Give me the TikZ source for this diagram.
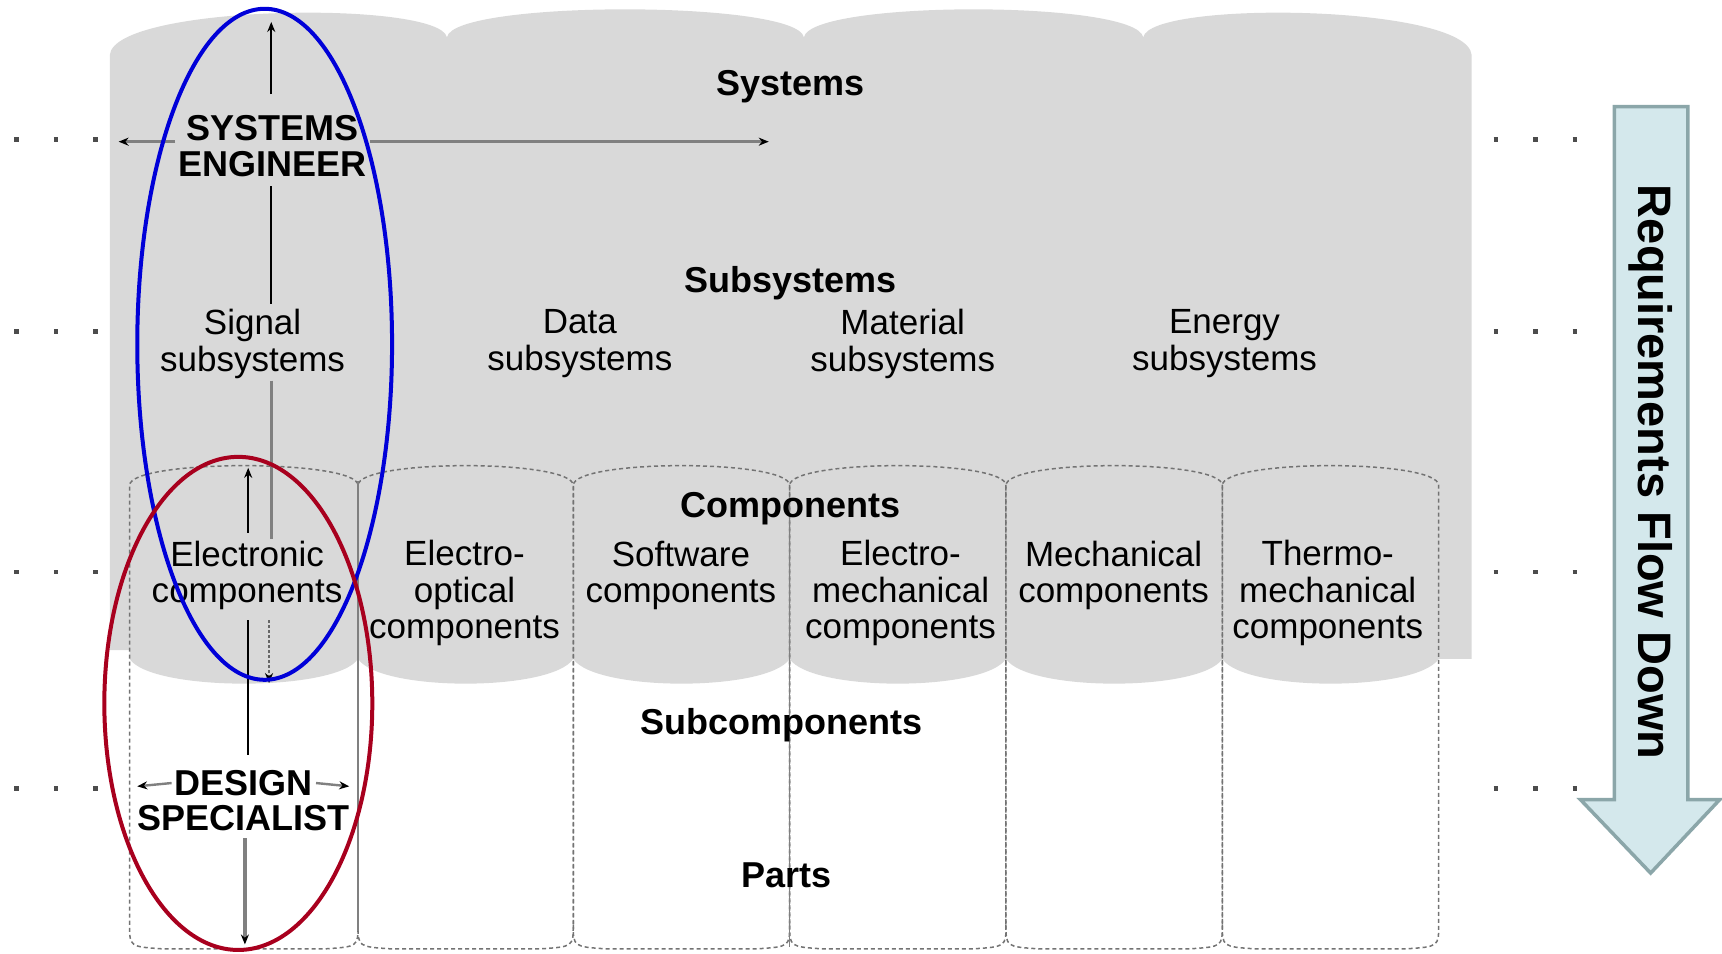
\documentclass[tikz,border=0pt]{standalone}
\usepackage{fontspec}
\setmainfont{Liberation Sans}
\usetikzlibrary{arrows.meta}

\definecolor{stipple}{HTML}{D9D9D9}
\definecolor{sysblue}{HTML}{0000D8}
\definecolor{specred}{HTML}{A8001E}
\definecolor{flowfill}{HTML}{D4E8EC}
\definecolor{flowedge}{HTML}{8BA6A9}

\tikzset{
  lbl/.style={font=\fontsize{35}{36.5}\selectfont, align=center, inner sep=2pt},
  level/.style={font=\bfseries\fontsize{36}{37}\selectfont, inner sep=0pt, anchor=base},
  role/.style={font=\bfseries\fontsize{36}{36}\selectfont, align=center, inner sep=3pt},
  column/.style={draw=black!55, line width=1.5pt, dash pattern=on 4pt off 3pt},
  divider/.style={draw=black!50, line width=1.6pt},
  blk/.style={draw=black, line width=2pt},
  greyline/.style={draw=black!50, line width=3.2pt},
  greythin/.style={draw=black!50, line width=2.4pt},
  greydot/.style={draw=black!60, line width=2.4pt, dash pattern=on 3pt off 2pt},
  tip/.style={-{Stealth[length=10pt,width=8pt,color=black]}},
  leveldots/.style={draw=black!70, line width=4.4pt, dash pattern=on 4.4pt off 35.1pt},
  oval/.style={line width=4pt},
}

\begin{document}
\begin{tikzpicture}[x=1.098pt, y=-1.098pt]
\useasboundingbox (0,0) rectangle (1568,868);

% shaded band: systems, subsystems and components levels
\fill[stipple] (100,592) -- (100,50)
  .. controls (104,4) and (400,0) .. (407,34)
  .. controls (412,0) and (726,0) .. (732,34)
  .. controls (738,0) and (1035,0) .. (1041,34)
  .. controls (1047,0) and (1336,4) .. (1340,50)
  -- (1340,600) -- (1310,600)
  .. controls (1290,630) and (1133,630) .. (1113,600)
  .. controls (1093,630) and (936,630) .. (916,600)
  .. controls (896,630) and (739,630) .. (719,600)
  .. controls (699,630) and (542,630) .. (522,600)
  .. controls (502,630) and (346,630) .. (326,600)
  .. controls (306,630) and (138,630) .. (118,600)
  -- (118,592) -- cycle;

% component columns
\foreach \a/\b in {118/326, 326/522, 522/719, 719/916, 916/1113, 1113/1310}{
  \draw[column] (\a,842) -- (\a,442)
    .. controls (\a,418) and (\b,418) .. (\b,442) -- (\b,842)
    .. controls (\b,862) .. (\b-30,864) -- (\a+30,864)
    .. controls (\a,862) .. (\a,842);
}
\draw[divider] (326,438) -- (326,848);
\draw[divider] (719,458) -- (719,862);

% level markers
\foreach \y in {127,302,521,718}{
  \draw[leveldots] (13,\y) -- (92,\y);
  \draw[leveldots] (1360,\y) -- (1440,\y);
}

% level titles
\node[level] (systems) at (720,87) {Systems};
\node[level] (subsystems) at (720,266) {Subsystems};
\node[level] (components) at (720,471) {Components};
\node[level] (subcomponents) at (712,669) {Subcomponents};
\node[level] (parts) at (716,808) {Parts};

% subsystems
\node[lbl] (sig) at (230,313) {Signal\\subsystems};
\node[lbl] (data) at (528,313) {Data\\subsystems};
\node[lbl] (mat) at (822,313) {Material\\subsystems};
\node[lbl] (energy) at (1115,313) {Energy\\subsystems};

% components
\node[lbl] (elec) at (225,524) {Electronic\\components};
\node[lbl] (eopt) at (423,540) {Electro-\\optical\\components};
\node[lbl] (soft) at (620,524) {Software\\components};
\node[lbl] (emech) at (820,540) {Electro-\\mechanical\\components};
\node[lbl] (mech) at (1014,524) {Mechanical\\components};
\node[lbl] (tmech) at (1209,540) {Thermo-\\mechanical\\components};

% roles
\node[role] (se) at (248,133) {SYSTEMS\\ENGINEER};
\node[role] (dsTop) at (222,713) {DESIGN};
\node[role] (dsBot) at (222,745) {SPECIALIST};

% free ends of the connectors
\coordinate (apex) at (247,20);
\coordinate (seL) at (108,129);
\coordinate (seR) at (700,129);
\coordinate (elecUp) at (226,426);
\coordinate (elecDown) at (245,622);
\coordinate (dsBottom) at (223,860);
\coordinate (dsL) at (125,716);
\coordinate (dsR) at (318,716);

% systems engineer: breadth and depth
\draw[blk, tip, shorten <=18pt] (se.north -| apex) -- (apex);
\draw[greythin, tip] (seL -| se.west) -- (seL);
\draw[greythin, tip] (seR -| se.east) -- (seR);
\draw[blk, shorten <=6pt, shorten >=3pt] (se.south -| apex) -- (sig.north -| apex);
\draw[greyline] (sig.south -| apex) -- (elec.north -| apex);

% design specialist
\draw[blk, tip, shorten <=6pt] (elec.north -| elecUp) -- (elecUp);
\draw[blk, shorten <=8pt, shorten >=12pt] (elec.south -| elecUp) -- (dsTop.north -| elecUp);
\draw[greydot, tip, shorten <=8pt] (elec.south -| elecDown) -- (elecDown);
\draw[greyline, tip, shorten <=4pt] (dsBot.south -| dsBottom) -- (dsBottom);
\draw[greythin, tip] (dsTop.west) -- (dsL);
\draw[greythin, tip] (dsTop.east) -- (dsR);

% scope of each role
\draw[oval, sysblue] (241,313.5) ellipse [x radius=116, y radius=305.5];
\draw[oval, specred] (217,640.5) ellipse [x radius=122, y radius=224.5];

% requirements flow
\draw[fill=flowfill, draw=flowedge, line width=3.5pt]
  (1470,97) -- (1537,97) -- (1537,728) -- (1566,728) -- (1503,795)
  -- (1439,728) -- (1470,728) -- cycle;
\node[rotate=-90, font=\bfseries\fontsize{47}{48}\selectfont] (req) at (1503,430) {Requirements Flow Down};
\end{tikzpicture}
\end{document}
